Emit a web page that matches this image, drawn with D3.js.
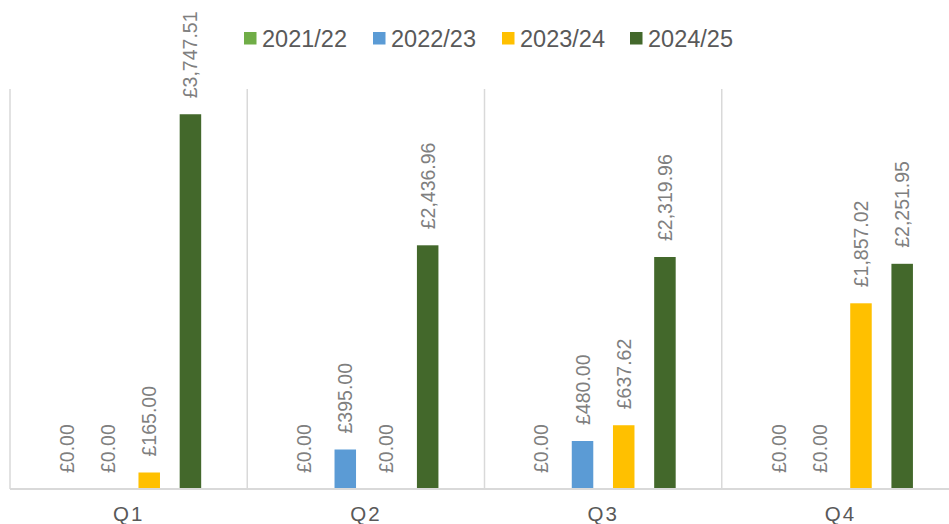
<!DOCTYPE html>
<html>
<head>
<meta charset="utf-8">
<script src="https://cdn.jsdelivr.net/npm/d3@7/dist/d3.min.js"></script>
<style>
  html, body { margin: 0; padding: 0; background: #fff; }
  svg { display: block; font-family: "Liberation Sans", Arial, sans-serif; }
</style>
</head>
<body>
<svg id="chart" width="949" height="524"></svg>
<script>
const categories = ["Q1", "Q2", "Q3", "Q4"];
const seriesNames = ["2021/22", "2022/23", "2023/24", "2024/25"];
const seriesColors = ["#70ad47", "#5b9bd5", "#ffc000", "#43682b"];
const values2021 = [0, 0, 0, 0];
const values2022 = [0, 395.00, 480.00, 0];
const values2023 = [165.00, 0, 637.62, 1857.02];
const values2024 = [3747.51, 2436.96, 2319.96, 2251.95];
const seriesValues = [values2021, values2022, values2023, values2024];

const svg = d3.select("#chart");
const plotLeft = 10, plotRight = 959, plotTop = 89, plotBottom = 489;

const x0 = d3.scaleBand().domain(categories).range([plotLeft, plotRight]).paddingInner(0).paddingOuter(0);
const x1 = d3.scaleBand().domain(seriesNames).range([0, x0.bandwidth()]).paddingInner(0.478).paddingOuter(1.118);
const y = d3.scaleLinear().domain([0, 4000]).range([plotBottom, plotTop]);

// vertical category gridlines
const gridG = svg.append("g");
categories.forEach(c => {
  gridG.append("line")
    .attr("x1", x0(c)).attr("x2", x0(c))
    .attr("y1", plotTop).attr("y2", plotBottom)
    .attr("stroke", "#d9d9d9").attr("stroke-width", 1.5);
});
gridG.append("line")
  .attr("x1", plotRight).attr("x2", plotRight)
  .attr("y1", plotTop).attr("y2", plotBottom)
  .attr("stroke", "#d9d9d9").attr("stroke-width", 1.5);

// bars
const fmt = v => "£" + d3.format(",.2f")(v);
const barsG = svg.append("g");
const labelsG = svg.append("g");
seriesNames.forEach((s, si) => {
  categories.forEach((c, ci) => {
    const v = seriesValues[si][ci];
    const bx = x0(c) + x1(s);
    const bw = x1.bandwidth();
    if (v > 0) {
      barsG.append("rect")
        .attr("x", bx).attr("width", bw)
        .attr("y", y(v)).attr("height", y(0) - y(v))
        .attr("fill", seriesColors[si]);
    }
    labelsG.append("text")
      .attr("transform", `translate(${bx + bw / 2},${y(v) - 16}) rotate(-90)`)
      .attr("text-anchor", "start")
      .attr("dominant-baseline", "central")
      .attr("font-size", 19.5)
      .attr("fill", "#7f7f7f")
      .text(fmt(v));
  });
});

// baseline
svg.append("line")
  .attr("x1", plotLeft).attr("x2", plotRight)
  .attr("y1", plotBottom).attr("y2", plotBottom)
  .attr("stroke", "#d9d9d9").attr("stroke-width", 2);

// category axis labels
const xAxis = d3.axisBottom(x0).tickSize(0).tickPadding(0);
const axG = svg.append("g").attr("transform", `translate(0,${plotBottom})`).call(xAxis);
axG.select(".domain").remove();
axG.selectAll("text")
  .attr("y", 32)
  .attr("dy", 0)
  .attr("font-size", 20.5)
  .attr("font-family", "'Liberation Sans', Arial, sans-serif")
  .attr("letter-spacing", 2)
  .attr("fill", "#595959");

// legend
const legendX = [244, 373, 502, 630];
const legG = svg.append("g");
seriesNames.forEach((s, i) => {
  legG.append("rect")
    .attr("x", legendX[i]).attr("y", 32)
    .attr("width", 12.5).attr("height", 12.5)
    .attr("fill", seriesColors[i]);
  legG.append("text")
    .attr("x", legendX[i] + 18).attr("y", 46.5)
    .attr("font-size", 23.5)
    .attr("fill", "#595959")
    .text(s);
});
</script>
</body>
</html>
